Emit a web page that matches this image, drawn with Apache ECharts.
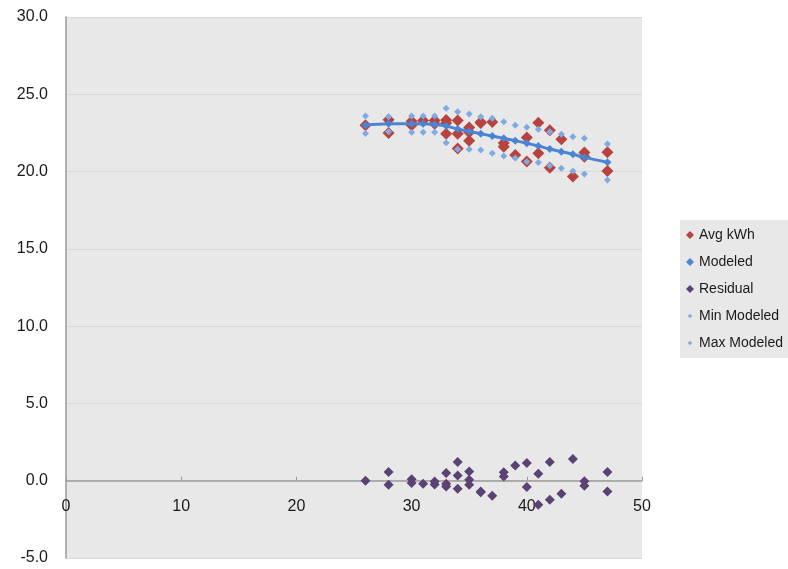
<!DOCTYPE html>
<html>
<head>
<meta charset="utf-8">
<script src="https://cdn.jsdelivr.net/npm/echarts@6/dist/echarts.min.js"></script>
<style>
html,body{margin:0;padding:0;background:#fff;}
#c{width:788px;height:569px;}
</style>
</head>
<body>
<div id="c"></div>
<script>
// Row x values (temperature) and observed averages
var rowX = [26,28,28,30,30,31,32,32,33,33,33,34,34,34,35,35,35,36,36,37,38,38,39,40,40,41,41,42,42,43,44,45,45,47,47];
var avgKwh = [23.0,23.35,22.5,23.25,23.0,23.3,23.3,23.1,23.15,23.33,22.45,23.3,22.45,21.5,22.85,22.55,22.0,23.15,23.2,23.2,21.85,21.6,21.07,22.2,20.65,23.16,21.18,22.68,20.25,22.09,19.68,20.96,21.24,21.25,20.03];
var residual = [0.0,-0.26,0.56,-0.15,0.1,-0.2,-0.25,-0.05,-0.2,-0.38,0.5,-0.52,0.34,1.21,-0.26,0.06,0.6,-0.69,-0.75,-0.97,0.28,0.54,0.99,-0.41,1.14,-1.55,0.45,-1.23,1.21,-0.84,1.40,-0.04,-0.32,-0.69,0.56];
// Modeled values per distinct x
var modelX = [26,28,30,31,32,33,34,35,36,37,38,39,40,41,42,43,44,45,47];
var modeled = [23.0,23.1,23.1,23.1,23.05,22.95,22.75,22.6,22.45,22.3,22.15,22.0,21.83,21.65,21.46,21.29,21.12,20.92,20.6];
var minModeled = [22.47,22.58,22.54,22.54,22.54,21.87,21.44,21.44,21.4,21.18,21.0,20.88,20.64,20.58,20.38,20.21,20.04,19.85,19.46];
var maxModeled = [23.6,23.55,23.6,23.6,23.6,24.09,23.87,23.72,23.55,23.45,23.23,23.0,22.86,22.73,22.58,22.41,22.26,22.15,21.78];
var xTicks = {min:0, max:50, interval:10};
var yTicks = {min:-5, max:30, interval:5};
var seriesNames = ['Avg kWh','Modeled','Residual','Min Modeled','Max Modeled'];

function pairs(xs, ys){ return xs.map(function(x,i){ return [x, ys[i]]; }); }

var FONT = '"Liberation Sans", Arial, sans-serif';
var GRID_TOP = 17, GRID_BOTTOM_PX = 558;
// place the x axis at y = 0 by offsetting it up from the grid bottom
var zeroOffset = -(GRID_BOTTOM_PX - GRID_TOP) * (0 - yTicks.min) / (yTicks.max - yTicks.min);
var smallIcon = 'path://M0,0 L0.01,0 M5,2.2 L7.8,5 L5,7.8 L2.2,5 Z M10,10 L9.99,10';
var chart = echarts.init(document.getElementById('c'), null, {renderer:'canvas'});
chart.setOption({
  animation:false,
  backgroundColor:'#ffffff',
  grid:{left:66, top:GRID_TOP, right:146, bottom:569-GRID_BOTTOM_PX, show:true, backgroundColor:'#e8e8e8', borderWidth:0,
        containLabel:false, outerBoundsMode:'none'},
  legend:{
    orient:'vertical', left:680, top:220,
    padding:[8,8,8,6], itemGap:13, itemWidth:8, itemHeight:8,
    backgroundColor:'#e8e8e8',
    textStyle:{fontFamily:FONT, fontSize:14, color:'#1a1a1a'},
    data:[
      {name:seriesNames[0], icon:'diamond'},
      {name:seriesNames[1], icon:'diamond'},
      {name:seriesNames[2], icon:'diamond'},
      {name:seriesNames[3], icon:smallIcon},
      {name:seriesNames[4], icon:smallIcon}
    ]
  },
  xAxis:{
    type:'value', min:xTicks.min, max:xTicks.max, interval:xTicks.interval,
    position:'bottom', offset:zeroOffset,
    axisLine:{onZero:false, lineStyle:{color:'#9a9a9a', width:1.5}},
    axisTick:{inside:true, length:4, lineStyle:{color:'#9a9a9a'}},
    axisLabel:{fontFamily:FONT, fontSize:16, color:'#1a1a1a', margin:18},
    splitLine:{show:false}
  },
  yAxis:{
    type:'value', min:yTicks.min, max:yTicks.max, interval:yTicks.interval,
    axisLine:{show:true, onZero:false, lineStyle:{color:'#9a9a9a', width:1.5}},
    axisTick:{show:false},
    axisLabel:{fontFamily:FONT, fontSize:16, color:'#1a1a1a', margin:18,
      formatter:function(v){ return v.toFixed(1); }},
    splitLine:{show:true, lineStyle:{color:'#d9d9d9', width:1}}
  },
  series:[
    {name:seriesNames[0], type:'scatter', symbol:'diamond', symbolSize:12,
     itemStyle:{color:'#b8433e', opacity:1}, data:pairs(rowX, avgKwh), z:2},
    {name:seriesNames[1], type:'line', smooth:0.4, symbol:'diamond', symbolSize:8, showAllSymbol:true,
     lineStyle:{color:'#4a85d4', width:3}, itemStyle:{color:'#4a85d4', opacity:1}, data:pairs(modelX, modeled), z:3},
    {name:seriesNames[2], type:'scatter', symbol:'diamond', symbolSize:10,
     itemStyle:{color:'#5a4275', opacity:1}, data:pairs(rowX, residual), z:3},
    {name:seriesNames[3], type:'scatter', symbol:'diamond', symbolSize:7,
     itemStyle:{color:'#7eabe4', opacity:1}, data:pairs(modelX, minModeled), z:4},
    {name:seriesNames[4], type:'scatter', symbol:'diamond', symbolSize:7,
     itemStyle:{color:'#7eabe4', opacity:1}, data:pairs(modelX, maxModeled), z:4}
  ]
});
</script>
</body>
</html>
